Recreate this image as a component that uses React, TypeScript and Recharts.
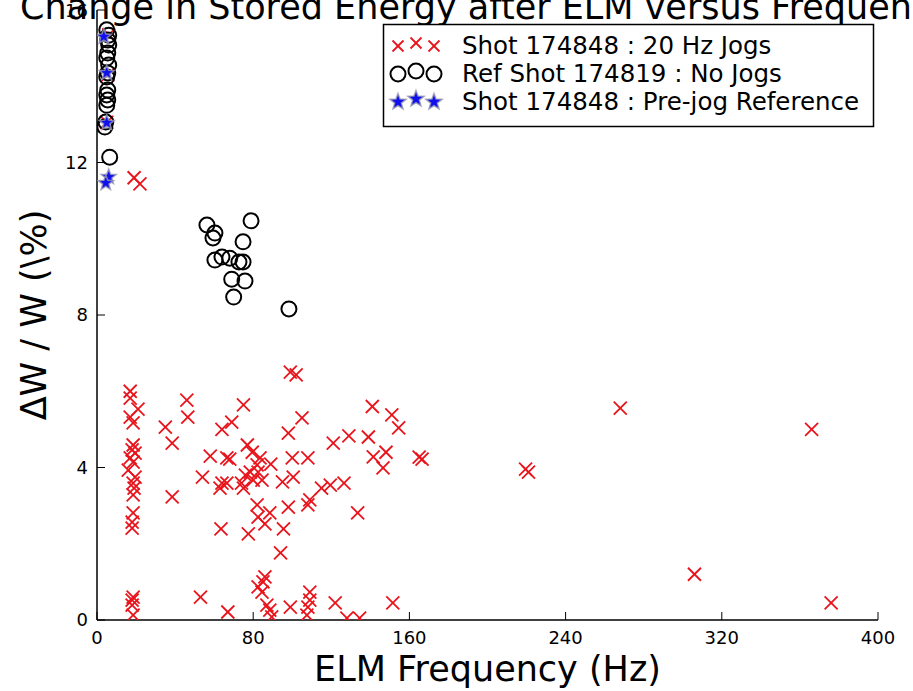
import React from 'react'
import { ScatterChart, Scatter, XAxis, YAxis } from 'recharts'

// Shot 174848, 20 Hz jogs (red x)
const jogFreq = [
  17, 17, 21, 17, 18.5, 18.5, 18, 19.5, 17, 18.5, 16, 19.5, 18.5, 19, 18.5, 18.5, 18, 18, 18.5, 18, 18, 18.5,
  19, 22, 6, 5.5, 5,
  35, 38.5, 46, 46.5, 38.5, 54, 53,
  75, 69, 64, 58, 66.5, 68, 77, 79.5, 83.5, 82, 89, 76, 78.5, 82.5, 74, 80, 84.5, 64, 66.5, 63, 75,
  95, 100.5, 100, 98, 105, 99, 102, 82, 88.5, 82.5, 86, 98, 95.5, 63.5, 77.5, 94, 86, 85, 82.5, 84.5,
  87, 88.5, 89.5, 99, 67,
  141, 151, 154.5, 121, 129, 139, 141.5, 148, 146.5, 108, 165, 166.5, 126.5, 119.5, 115, 109, 108,
  133.5, 109, 109, 108, 107.5, 122, 128, 134.5, 151.5,
  219.5, 221, 268, 306, 366, 376,
]
const jogDw = [
  6.0, 5.82, 5.53, 5.32, 5.17, 4.59, 4.46, 4.38, 4.25, 4.14, 3.93, 3.75, 3.59, 3.46, 3.28, 2.81, 2.57, 2.41, 0.6, 0.52, 0.39, 0.13,
  11.6, 11.44, 15.35, 14.3, 13.05,
  5.06, 4.64, 5.77, 5.32, 3.23, 3.75, 0.6,
  5.64, 5.19, 5.0, 4.3, 4.25, 4.22, 4.59, 4.4, 4.25, 4.07, 4.09, 3.8, 3.88, 3.88, 3.59, 3.67, 3.67, 3.59, 3.59, 3.46, 3.46,
  3.62, 3.75, 4.25, 4.9, 5.3, 6.5, 6.43, 3.02, 2.81, 2.7, 2.52, 2.96, 2.39, 2.39, 2.26, 1.76, 1.13, 1.0, 0.87, 0.73,
  0.39, 0.26, 0.08, 0.34, 0.21,
  5.6, 5.38, 5.04, 4.64, 4.83, 4.8, 4.28, 4.4, 3.99, 4.25, 4.27, 4.22, 3.59, 3.54, 3.46, 3.15, 3.02,
  2.81, 0.73, 0.52, 0.34, 0.13, 0.45, 0.05, 0.05, 0.45,
  3.96, 3.88, 5.56, 1.2, 5.0, 0.45,
]

// Ref shot 174819, no jogs (open circles)
const refFreq = [
  5, 6, 5.5, 6, 5.5, 5, 6, 5.5, 5, 5.5, 5, 5.5, 5, 4.5, 4, 6.5,
  56.3, 60.4, 59.4, 78.9, 74.8, 60.4, 64, 68, 72.7, 74.8, 69, 75.8, 70, 98.3,
]
const refDw = [
  15.48, 15.34, 15.21, 15.08, 14.87, 14.74, 14.56, 14.35, 14.24, 13.9, 13.77, 13.64, 13.5, 13.06, 12.93, 12.14,
  10.36, 10.15, 10.02, 10.47, 9.92, 9.44, 9.52, 9.49, 9.39, 9.39, 8.94, 8.89, 8.47, 8.16,
]

// Shot 174848 pre-jog reference (stars)
const preFreq = [3.5, 5, 5, 6, 4.5]
const preDw = [15.3, 14.35, 13.04, 11.62, 11.46]

const xTicks = [0, 80, 160, 240, 320, 400]
const yTicks = [0, 4, 8, 12, 16]

const legendLabels = [
  'Shot 174848 : 20 Hz Jogs',
  'Ref Shot 174819 : No Jogs',
  'Shot 174848 : Pre-jog Reference',
]

const FONT = '"DejaVu Sans", sans-serif'
const RED = '#e8141c'

const toPoints = (xs: number[], ys: number[]) => xs.map((x, i) => ({ x, y: ys[i] }))

function XMark({ cx, cy, s = 6.5 }: any) {
  return (
    <g stroke={RED} strokeWidth={1.8}>
      <line x1={cx - s} y1={cy - s} x2={cx + s} y2={cy + s} />
      <line x1={cx - s} y1={cy + s} x2={cx + s} y2={cy - s} />
    </g>
  )
}

function OMark({ cx, cy, r = 7.5 }: any) {
  return <circle cx={cx} cy={cy} r={r} fill="none" stroke="#000" strokeWidth={2} />
}

function StarMark({ cx, cy, r = 8 }: any) {
  const pts: string[] = []
  for (let i = 0; i < 10; i++) {
    const rad = i % 2 === 0 ? r : r * 0.42
    const a = -Math.PI / 2 + (i * Math.PI) / 5
    pts.push(`${cx + rad * Math.cos(a)},${cy + rad * Math.sin(a)}`)
  }
  return <polygon points={pts.join(' ')} fill="#1010ee" stroke="#9a9ab0" strokeWidth={1.5} strokeOpacity={0.8} />
}

const noTick = () => <g />

export default function App() {
  const axisLine = { stroke: '#000', strokeWidth: 1.5 }
  const tickLine = { stroke: '#000', strokeWidth: 1 }
  const tickStyle = { fill: '#000', fontSize: 18, fontFamily: FONT }
  const rowY = [45, 73, 101]
  const offs = [1, -2, 1]

  return (
    <div style={{ position: 'absolute', left: 0, top: 0, width: 913, height: 691, background: '#fff' }}>
      <ScatterChart width={913} height={691} margin={{ top: 10, right: 35, bottom: 0, left: 0 }}>
        <XAxis
          type="number"
          dataKey="x"
          domain={[0, 400]}
          ticks={xTicks}
          allowDataOverflow
          height={71}
          axisLine={axisLine}
          tickLine={tickLine}
          tickSize={-8}
          tickMargin={19}
          tick={tickStyle}
          label={{ value: 'ELM Frequency (Hz)', position: 'insideBottom', offset: 10, style: { fontSize: 35, fontFamily: FONT, fill: '#000' } }}
        />
        <YAxis
          type="number"
          dataKey="y"
          domain={[0, 16]}
          ticks={yTicks}
          allowDataOverflow
          width={97}
          axisLine={axisLine}
          tickLine={tickLine}
          tickSize={-8}
          tickMargin={17}
          tick={tickStyle}
          label={{ value: 'ΔW / W (\\%)', angle: -90, position: 'insideLeft', offset: 34, style: { fontSize: 35, fontFamily: FONT, fill: '#000', textAnchor: 'middle' } }}
        />
        <XAxis
          xAxisId="top"
          orientation="top"
          type="number"
          domain={[0, 400]}
          ticks={xTicks}
          allowDataOverflow
          height={0}
          axisLine={axisLine}
          tickLine={tickLine}
          tickSize={-8}
          tick={noTick}
        />
        <YAxis
          yAxisId="right"
          orientation="right"
          type="number"
          domain={[0, 16]}
          ticks={yTicks}
          allowDataOverflow
          width={0}
          axisLine={axisLine}
          tickLine={tickLine}
          tickSize={-8}
          tick={noTick}
        />
        <Scatter
          data={toPoints(jogFreq, jogDw)}
          isAnimationActive={false}
          shape={(p: any) => <XMark cx={p.cx} cy={p.cy} />}
        />
        <Scatter
          data={toPoints(refFreq, refDw)}
          isAnimationActive={false}
          shape={(p: any) => <OMark cx={p.cx} cy={p.cy} />}
        />
        <Scatter
          data={toPoints(preFreq, preDw)}
          isAnimationActive={false}
          shape={(p: any) => <StarMark cx={p.cx} cy={p.cy} />}
        />
      </ScatterChart>

      {/* title (clipped at the top like the original) and legend box */}
      <svg width={913} height={691} style={{ position: 'absolute', left: 0, top: 0, pointerEvents: 'none' }}>
        <text x={486} y={19} textAnchor="middle" fontSize={35} fontFamily={FONT} fill="#000">
          Change in Stored Energy after ELM versus Frequency
        </text>
        <rect x={383.5} y={24.5} width={490} height={102} fill="#fff" stroke="#000" strokeWidth={1.5} />
        {legendLabels.map((label, i) => (
          <g key={label}>
            {[398, 416, 434].map((mx, j) => {
              const my = rowY[i] + offs[j]
              if (i === 0) return <XMark key={j} cx={mx} cy={my} s={5.5} />
              if (i === 1) return <OMark key={j} cx={mx} cy={my} r={7.5} />
              return <StarMark key={j} cx={mx} cy={my} r={8.5} />
            })}
            <text x={462} y={rowY[i]} dominantBaseline="central" fontSize={24.5} fontFamily={FONT} fill="#000">
              {label}
            </text>
          </g>
        ))}
      </svg>
    </div>
  )
}
